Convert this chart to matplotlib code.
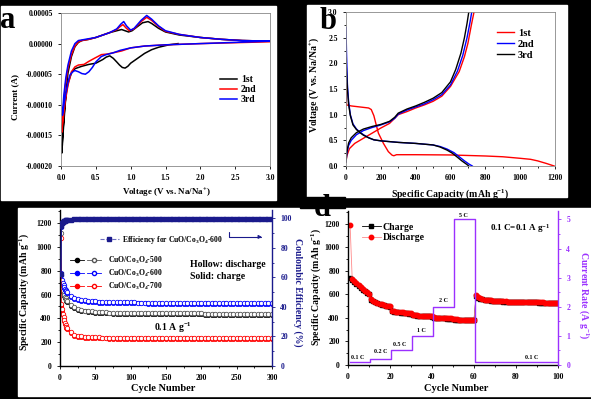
import matplotlib
matplotlib.use('Agg')
import matplotlib.pyplot as plt
from matplotlib.patches import Rectangle
from matplotlib.lines import Line2D
from matplotlib.legend_handler import HandlerTuple
from matplotlib.ticker import MultipleLocator, FormatStrFormatter

plt.rcParams['font.family'] = ['Liberation Serif', 'DejaVu Serif']
plt.rcParams['font.weight'] = 'bold'
plt.rcParams['axes.labelweight'] = 'bold'
plt.rcParams['mathtext.fontset'] = 'custom'
plt.rcParams['mathtext.rm'] = 'Liberation Serif:bold'
plt.rcParams['mathtext.it'] = 'Liberation Serif:italic:bold'
plt.rcParams['mathtext.bf'] = 'Liberation Serif:bold'

# ---- (a) CV curves, current in 1e-5 A ----
cv1_v = [1.68, 1.55, 1.4, 1.3, 1.2, 1.1, 1.0, 0.96, 0.92, 0.88, 0.84, 0.8, 0.75, 0.7, 0.65, 0.6, 0.5, 0.4, 0.3,
         0.2, 0.15, 0.1, 0.07, 0.05, 0.03, 0.02, 0.01,
         0.02, 0.03, 0.05, 0.08, 0.1, 0.15, 0.2, 0.25, 0.3, 0.4, 0.5, 0.6, 0.7, 0.8, 0.87, 0.92, 0.97, 1.02,
         1.1, 1.17, 1.25, 1.3, 1.4, 1.5, 1.7, 2.0, 2.3, 2.6, 3.0]
cv1_i = [0.0, -0.2, -0.6, -1.0, -1.6, -2.4, -3.2, -3.7, -4.0, -3.9, -3.5, -3.0, -2.4, -2.0, -2.2, -2.6, -3.2, -3.4, -3.7,
         -4.1, -4.8, -6.5, -8.5, -10.8, -14.0, -15.8, -17.9,
         -16.5, -14.6, -11.5, -7.0, -4.8, -2.1, -0.5, 0.2, 0.5, 0.7, 1.0, 1.4, 1.8, 2.1, 2.3, 2.1, 1.9, 2.1,
         2.8, 3.4, 3.6, 3.3, 2.5, 1.9, 1.4, 1.0, 0.7, 0.5, 0.4]
cv2_v = [3.0, 2.5, 2.0, 1.5, 1.2, 1.0, 0.87, 0.75, 0.67, 0.58, 0.48, 0.4, 0.33, 0.25, 0.2, 0.15, 0.1, 0.06, 0.03, 0.01,
         0.03, 0.06, 0.1, 0.15, 0.2, 0.25, 0.3, 0.4, 0.5, 0.6, 0.7, 0.8, 0.85, 0.89, 0.93, 0.98, 1.05, 1.15, 1.23,
         1.3, 1.4, 1.5, 1.7, 2.0, 2.3, 2.6, 3.0]
cv2_i = [0.3, 0.15, 0.0, -0.2, -0.4, -0.7, -1.2, -1.5, -1.7, -1.8, -2.4, -2.9, -3.4, -3.5, -3.8, -4.6, -6.8, -9.5, -12.5, -14.5,
         -11.0, -7.0, -4.0, -1.8, -0.4, 0.3, 0.5, 0.7, 1.0, 1.4, 1.8, 2.3, 2.8, 3.1, 2.6, 2.1, 2.4, 3.6, 4.3,
         3.8, 2.8, 2.0, 1.5, 1.0, 0.7, 0.5, 0.4]
cv3_v = [3.0, 2.5, 2.0, 1.5, 1.2, 1.0, 0.85, 0.75, 0.65, 0.58, 0.5, 0.45, 0.4, 0.35, 0.3, 0.25, 0.2, 0.17, 0.13, 0.1,
         0.06, 0.03, 0.02,
         0.04, 0.07, 0.1, 0.15, 0.2, 0.25, 0.3, 0.4, 0.5, 0.6, 0.7, 0.8, 0.86, 0.9, 0.94, 1.0, 1.05, 1.15, 1.23,
         1.3, 1.4, 1.5, 1.7, 2.0, 2.3, 2.6, 3.0]
cv3_i = [0.4, 0.2, 0.0, -0.2, -0.4, -0.7, -1.1, -1.5, -1.8, -2.1, -3.0, -3.9, -4.6, -5.0, -4.9, -4.6, -4.4, -4.6, -5.1, -6.3,
         -8.7, -10.9, -11.7,
         -8.5, -5.5, -3.5, -1.2, 0.0, 0.5, 0.6, 0.8, 1.0, 1.4, 1.8, 2.4, 3.2, 3.6, 2.9, 2.2, 2.5, 3.8, 4.6,
         4.0, 2.9, 2.1, 1.5, 1.0, 0.7, 0.5, 0.4]

# ---- (b) charge/discharge profiles ----
b1_dis_cap = [0, 1, 3, 30, 80, 130, 145, 160, 172, 186, 215, 243, 265, 275, 290, 400, 600, 800, 900, 1000, 1060, 1100, 1150, 1195]
b1_dis_v = [1.6, 1.35, 1.19, 1.17, 1.15, 1.13, 1.1, 0.98, 0.82, 0.64, 0.44, 0.28, 0.21, 0.2, 0.22, 0.22, 0.215, 0.195, 0.18, 0.15, 0.13, 0.1, 0.05, 0.0]
b1_chg_cap = [0, 5, 20, 50, 100, 150, 200, 250, 280, 300, 350, 400, 450, 500, 550, 600, 650, 680, 700, 720, 735]
b1_chg_v = [0.08, 0.2, 0.34, 0.44, 0.54, 0.64, 0.74, 0.83, 0.93, 1.0, 1.06, 1.13, 1.19, 1.26, 1.36, 1.55, 1.84, 2.13, 2.39, 2.75, 3.0]
b2_dis_cap = [0, 3, 8, 15, 25, 40, 60, 80, 100, 130, 160, 200, 300, 400, 500, 540, 580, 620, 650, 680, 705, 725]
b2_dis_v = [2.7, 2.2, 1.6, 1.25, 1.0, 0.82, 0.72, 0.66, 0.61, 0.55, 0.51, 0.49, 0.46, 0.44, 0.41, 0.38, 0.33, 0.26, 0.18, 0.1, 0.04, 0.0]
b2_chg_cap = [0, 5, 15, 30, 60, 100, 150, 200, 250, 280, 300, 350, 400, 450, 500, 550, 600, 640, 670, 695, 712, 722]
b2_chg_v = [0.08, 0.25, 0.4, 0.5, 0.61, 0.69, 0.75, 0.8, 0.86, 0.93, 1.01, 1.09, 1.15, 1.21, 1.29, 1.39, 1.58, 1.85, 2.15, 2.5, 2.8, 3.0]
b3_dis_cap = [0, 3, 8, 15, 25, 40, 60, 80, 100, 130, 160, 200, 300, 400, 500, 540, 580, 610, 640, 665, 690, 705]
b3_dis_v = [2.1, 1.85, 1.5, 1.2, 0.98, 0.8, 0.71, 0.65, 0.6, 0.55, 0.51, 0.49, 0.46, 0.44, 0.41, 0.37, 0.31, 0.25, 0.17, 0.1, 0.04, 0.0]
b3_chg_cap = [0, 5, 15, 30, 60, 100, 150, 200, 250, 280, 300, 350, 400, 450, 500, 550, 600, 630, 660, 680, 695, 705]
b3_chg_v = [0.08, 0.28, 0.45, 0.55, 0.65, 0.72, 0.77, 0.81, 0.87, 0.95, 1.03, 1.11, 1.17, 1.24, 1.32, 1.43, 1.64, 1.88, 2.2, 2.5, 2.78, 3.0]

# ---- (c) cycling at 0.1 A/g ----
cyc_c = [1, 2, 3, 4, 5, 6, 7, 8, 9, 10] + list(range(15, 301, 5))
s600_dis = [1170, 760, 720, 700, 680, 665, 650, 640, 630, 620,
            590, 572, 562, 556, 551, 548, 545, 543, 541, 540,
            539, 538, 537, 536, 536, 535, 535, 534,
            534, 533, 533, 533, 532, 532, 532, 531, 531, 531,
            531, 530, 530, 530, 530, 529, 529, 529, 529, 529,
            528, 528, 528, 528, 528, 528, 527, 527, 527, 527,
            527, 527, 527, 526, 526, 526, 526, 526, 526, 526]
s600_chg = [780, 730, 705, 688, 670, 656, 642, 632, 622, 612,
            582, 564, 554, 548, 543, 540, 537, 535, 533, 532,
            531, 530, 529, 528, 528, 527, 527, 526,
            526, 525, 525, 525, 524, 524, 524, 523, 523, 523,
            523, 522, 522, 522, 522, 521, 521, 521, 521, 521,
            520, 520, 520, 520, 520, 520, 519, 519, 519, 519,
            519, 519, 519, 518, 518, 518, 518, 518, 518, 518]
s500_dis = [1120, 690, 650, 630, 610, 595, 580, 567, 556, 546,
            512, 492, 480, 472, 466, 462, 458, 455, 453, 451,
            450, 449, 448, 447, 446, 446, 445, 445,
            445, 444, 444, 444, 443, 443, 443, 443, 442, 442,
            442, 442, 442, 441, 441, 441, 441, 441, 441, 441,
            440, 440, 440, 440, 440, 440, 440, 440, 440, 440,
            440, 440, 440, 440, 440, 440, 440, 440, 440, 440]
s500_chg = [690, 665, 638, 620, 601, 587, 572, 559, 548, 538,
            504, 484, 472, 464, 458, 454, 450, 447, 445, 443,
            442, 441, 440, 439, 438, 438, 437, 437,
            437, 436, 436, 436, 435, 435, 435, 435, 434, 434,
            434, 434, 434, 433, 433, 433, 433, 433, 433, 433,
            432, 432, 432, 432, 432, 432, 432, 432, 432, 432,
            432, 432, 432, 432, 432, 432, 432, 432, 432, 432]
s700_dis = [1075, 520, 480, 440, 410, 385, 364, 346, 331, 318,
            282, 263, 254, 249, 246, 244, 242, 241, 240, 239,
            239, 238, 238, 237, 237, 237, 236, 236,
            236, 236, 235, 235, 235, 235, 235, 234, 234, 234,
            234, 234, 234, 233, 233, 233, 233, 233, 233, 233,
            233, 232, 232, 232, 232, 232, 232, 232, 232, 232,
            232, 232, 232, 231, 231, 231, 231, 231, 231, 231]
s700_chg = [500, 500, 465, 428, 398, 374, 354, 337, 322, 310,
            274, 255, 246, 241, 238, 236, 234, 233, 232, 231,
            231, 230, 230, 229, 229, 229, 228, 228,
            228, 228, 227, 227, 227, 227, 227, 226, 226, 226,
            226, 226, 226, 225, 225, 225, 225, 225, 225, 225,
            225, 224, 224, 224, 224, 224, 224, 224, 224, 224,
            224, 224, 224, 223, 223, 223, 223, 223, 223, 223]
eff600 = [62, 95, 97, 97.5, 98, 98.3, 98.5, 98.7, 98.8, 99.0,
          99.2, 99.4, 99.5, 99.6, 99.6, 99.7, 99.7, 99.7, 99.8, 99.8,
          99.8, 99.8, 99.8, 99.8, 99.8, 99.8, 99.8, 99.8,
          99.8, 99.9, 99.8, 99.9, 99.8, 99.9, 99.8, 99.9, 99.8, 99.9,
          99.8, 99.9, 99.8, 99.9, 99.8, 99.9, 99.8, 99.9, 99.8, 99.9,
          99.8, 99.9, 99.8, 99.9, 99.8, 99.9, 99.8, 99.9, 99.8, 99.9,
          99.8, 99.9, 99.8, 99.9, 99.8, 99.9, 99.8, 99.9, 99.8, 99.9]

# ---- (d) rate performance ----
cyc_d = list(range(1, 101))
rate_dis = [1190, 730, 712, 695, 678, 662, 647, 632, 618, 605,
            562, 547, 537, 529, 522, 516, 511, 506, 502, 498,
            462, 457, 454, 451, 449, 447, 445, 443, 441, 439,
            428, 425, 423, 421, 420, 419, 418, 417, 416, 415,
            406, 404, 402, 401, 400, 399, 398, 397, 396, 395,
            389, 388, 387, 386, 386, 385, 385, 384, 384, 383,
            592, 577, 567, 561, 557, 553, 551, 549, 547, 546,
            545, 544, 543, 542, 541, 540, 540, 539, 538, 538,
            537, 537, 536, 536, 535, 535, 534, 534, 533, 533,
            533, 532, 532, 531, 531, 531, 530, 530, 530, 529]
rate_chg = [740, 722, 705, 689, 673, 657, 642, 628, 614, 601,
            556, 542, 533, 525, 518, 513, 508, 503, 499, 495,
            457, 453, 450, 448, 446, 444, 442, 440, 438, 436,
            424, 422, 420, 418, 417, 416, 415, 414, 413, 412,
            402, 401, 399, 398, 397, 396, 395, 394, 393, 392,
            385, 385, 384, 383, 383, 382, 382, 381, 381, 380,
            585, 572, 563, 558, 554, 551, 549, 547, 545, 544,
            543, 542, 541, 540, 539, 539, 538, 537, 537, 536,
            536, 535, 535, 534, 534, 533, 533, 533, 532, 532,
            531, 531, 531, 530, 530, 530, 529, 529, 529, 528]
rate_edges = [1, 10.5, 20.5, 30.5, 40.5, 50.5, 60.5, 100]
rate_values = [0.1, 0.2, 0.5, 1, 2, 5, 0.1]
rate_names = ['0.1 C', '0.2 C', '0.5 C', '1 C', '2 C', '5 C', '0.1 C']
rate_label_x = [4.8, 15.7, 24.8, 35, 45.7, 54.8, 87.6]
rate_label_y = [0.27, 0.48, 0.69, 1.2, 2.23, 5.12, 0.27]

NAVY = '#1a1a8c'
PURPLE = '#9b30ff'

fig = plt.figure(figsize=(5.91, 3.99), dpi=100, facecolor='black')
W, H = 591.0, 399.0


def box(x0, y0, x1, y1, color='white', z=-1):
    fig.patches.append(Rectangle((x0 / W, 1 - y1 / H), (x1 - x0) / W, (y1 - y0) / H,
                                 transform=fig.transFigure, color=color, zorder=z))


def axes_px(x0, y0, x1, y1):
    return fig.add_axes([x0 / W, 1 - y1 / H, (x1 - x0) / W, (y1 - y0) / H])


box(1, 6, 276, 200)
box(307, 5, 567, 197)
box(18, 208, 591, 396)


def style_ticks(ax, size=5.5):
    ax.tick_params(which='both', direction='out', labelsize=size, width=0.6)
    ax.tick_params(which='major', length=2.5)
    ax.tick_params(which='minor', length=1.5)
    for t in ax.get_xticklabels() + ax.get_yticklabels():
        t.set_fontweight('bold')


# ---------------- (a) ----------------
ax_a = axes_px(61, 13, 270, 166)
ax_a.plot(cv1_v, [v * 1e-5 for v in cv1_i], color='black', lw=1.1, label='1st')
ax_a.plot(cv2_v, [v * 1e-5 for v in cv2_i], color='red', lw=1.1, label='2nd')
ax_a.plot(cv3_v, [v * 1e-5 for v in cv3_i], color='blue', lw=1.1, label='3rd')
ax_a.set_xlim(0, 3.0)
ax_a.set_ylim(-0.0002, 0.00005)
ax_a.xaxis.set_major_locator(MultipleLocator(0.5))
ax_a.xaxis.set_major_formatter(FormatStrFormatter('%.1f'))
ax_a.yaxis.set_major_locator(MultipleLocator(0.00005))
ax_a.yaxis.set_major_formatter(FormatStrFormatter('%.5f'))
ax_a.set_xlabel('Voltage (V vs. Na/Na$^{+}$)', fontsize=6.5)
ax_a.set_ylabel('Current (A)', fontsize=6.5)
ax_a.xaxis.set_label_coords(0.507, -0.135)
ax_a.yaxis.set_label_coords(-0.2, 0.45)
for s in ax_a.spines.values():
    s.set_color('#888888')
    s.set_linewidth(0.6)
style_ticks(ax_a)
ax_a.legend(loc='center left', bbox_to_anchor=(0.76, 0.5), frameon=False, fontsize=7,
            handlelength=1.75, handletextpad=0.4, labelspacing=0.1, borderpad=0, borderaxespad=0)

# ---------------- (b) ----------------
ax_b = axes_px(346, 12, 555, 166)
ax_b.plot(b1_dis_cap, b1_dis_v, color='red', lw=1.0, label='1st')
ax_b.plot(b1_chg_cap, b1_chg_v, color='red', lw=1.0)
ax_b.plot(b2_dis_cap, b2_dis_v, color='blue', lw=1.0, label='2nd')
ax_b.plot(b2_chg_cap, b2_chg_v, color='blue', lw=1.0)
ax_b.plot(b3_dis_cap, b3_dis_v, color='black', lw=1.0, label='3rd')
ax_b.plot(b3_chg_cap, b3_chg_v, color='black', lw=1.0)
ax_b.set_xlim(0, 1200)
ax_b.set_ylim(0, 3.0)
ax_b.xaxis.set_major_locator(MultipleLocator(200))
ax_b.xaxis.set_minor_locator(MultipleLocator(100))
ax_b.yaxis.set_major_locator(MultipleLocator(0.5))
ax_b.yaxis.set_minor_locator(MultipleLocator(0.25))
ax_b.yaxis.set_major_formatter(FormatStrFormatter('%.1f'))
ax_b.set_xlabel('Specific Capacity (mAh g$^{-1}$)', fontsize=7)
ax_b.set_ylabel('Voltage (V vs. Na/Na$^{+}$)', fontsize=7)
ax_b.xaxis.set_label_coords(0.498, -0.135)
ax_b.yaxis.set_label_coords(-0.12, 0.526)
for s in ax_b.spines.values():
    s.set_color('#888888')
    s.set_linewidth(0.6)
style_ticks(ax_b)
ax_b.legend(loc='center left', bbox_to_anchor=(0.722, 0.792), frameon=False, fontsize=7.5,
            handlelength=1.6, handletextpad=0.4, labelspacing=0.15, borderpad=0, borderaxespad=0)

# ---------------- (c) ----------------
ax_c = axes_px(60, 210, 272, 366)
ms_c = 3.2
series_c = [(s500_chg, s500_dis, 'black', '#555555'),
            (s600_chg, s600_dis, 'blue', 'blue'),
            (s700_chg, s700_dis, 'red', 'red')]
for chg, dis, col, ecol in series_c:
    ax_c.plot(cyc_c, chg, color=col, lw=0.5, marker='o', ms=ms_c, mfc=col, mec=col, mew=0.4)
    ax_c.plot(cyc_c, dis, color=ecol, lw=0.5, marker='o', ms=ms_c, mfc='white', mec=ecol, mew=0.6)
ax_c.set_xlim(0, 300)
ax_c.set_ylim(0, 1310)
ax_c.xaxis.set_major_locator(MultipleLocator(50))
ax_c.xaxis.set_minor_locator(MultipleLocator(25))
ax_c.yaxis.set_major_locator(MultipleLocator(200))
ax_c.yaxis.set_minor_locator(MultipleLocator(100))
ax_c.set_xlabel('Cycle Number', fontsize=7.5)
ax_c.set_ylabel('Specific Capacity (mAh g$^{-1}$)', fontsize=7)
ax_c.xaxis.set_label_coords(0.486, -0.115)
ax_c.yaxis.set_label_coords(-0.137, 0.474)
ax_c.spines['top'].set_visible(False)
ax_c.spines['right'].set_visible(False)
for k in ['left', 'bottom']:
    ax_c.spines[k].set_linewidth(1.0)
style_ticks(ax_c)

ax_c2 = ax_c.twinx()
ax_c2.plot(cyc_c, eff600, color=NAVY, lw=1.0, marker='s', ms=2.6, mec=NAVY, mfc=NAVY)
ax_c2.set_ylim(0, 105.7)
ax_c2.yaxis.set_major_locator(MultipleLocator(20))
ax_c2.yaxis.set_minor_locator(MultipleLocator(10))
for k in ['top', 'left', 'bottom']:
    ax_c2.spines[k].set_visible(False)
ax_c2.spines['right'].set_color(NAVY)
ax_c2.spines['right'].set_linewidth(1.0)
style_ticks(ax_c2)
ax_c2.tick_params(axis='y', which='both', colors=NAVY)
ax_c2.set_ylabel('Coulombic Efficiency (%)', fontsize=7, color=NAVY, rotation=270, va='bottom')
ax_c2.yaxis.set_label_coords(1.10, 0.47)

eff_handle = Line2D([], [], color='#7070c0', lw=0.8, ls='--', marker='s', ms=2.6, mfc=NAVY, mec=NAVY)
leg1 = ax_c2.legend([eff_handle], ['Efficiency for CuO/Co$_3$O$_4$-600'], loc='center left',
                    bbox_to_anchor=(0.19, 0.808), frameon=False, fontsize=5.5, handlelength=2.4,
                    handletextpad=0.4, borderpad=0, borderaxespad=0)
ax_c2.add_artist(leg1)
leg_handles = []
for chg, dis, col, ecol in series_c:
    h1 = Line2D([], [], color=col, lw=0.6, marker='o', ms=3, mfc=col, mec=col)
    h2 = Line2D([], [], color=ecol, lw=0.6, marker='o', ms=3, mfc='white', mec=ecol)
    leg_handles.append((h1, h2))
ax_c2.legend(leg_handles, ['CuO/Co$_3$O$_4$-500', 'CuO/Co$_3$O$_4$-600', 'CuO/Co$_3$O$_4$-700'],
             handler_map={tuple: HandlerTuple(ndivide=None, pad=0.4)}, loc='center left',
             bbox_to_anchor=(0.047, 0.596), frameon=False, fontsize=5.5, handlelength=4,
             handletextpad=1.0, labelspacing=0.25, borderpad=0, borderaxespad=0)

ax_c.text(184, 849, 'Hollow: discharge', fontsize=7, fontweight='bold', va='center')
ax_c.text(184, 748, 'Solid: charge', fontsize=7, fontweight='bold', va='center')
ax_c.text(160, 319, '0.1 A g$^{-1}$', fontsize=7, fontweight='bold', va='center', ha='center')
ax_c.annotate('', xy=(286, 1084), xytext=(239, 1126),
              arrowprops=dict(arrowstyle='-|>', color=NAVY, lw=0.8, mutation_scale=5,
                              connectionstyle='angle,angleA=90,angleB=0,rad=0',
                              shrinkA=0, shrinkB=0))

# ---------------- (d) ----------------
ax_d = axes_px(348, 211, 558, 365)
ax_d.plot(cyc_d, rate_chg, color='black', lw=0.6, marker='s', ms=2.8, mfc='black', mec='black', label='Charge')
ax_d.plot(cyc_d, rate_dis, color='#ff8a8a', lw=0.6, marker='o', ms=3.2, mfc='red', mec='red', label='Discharge')
ax_d.set_xlim(0, 100)
ax_d.set_ylim(0, 1310)
ax_d.xaxis.set_major_locator(MultipleLocator(20))
ax_d.xaxis.set_minor_locator(MultipleLocator(10))
ax_d.yaxis.set_major_locator(MultipleLocator(200))
ax_d.yaxis.set_minor_locator(MultipleLocator(100))
ax_d.set_xlabel('Cycle Number', fontsize=7.5)
ax_d.set_ylabel('Specific Capacity (mAh g$^{-1}$)', fontsize=7)
ax_d.xaxis.set_label_coords(0.514, -0.123)
ax_d.yaxis.set_label_coords(-0.119, 0.506)
ax_d.spines['top'].set_visible(False)
ax_d.spines['right'].set_visible(False)
for k in ['left', 'bottom']:
    ax_d.spines[k].set_linewidth(1.0)
style_ticks(ax_d)
ax_d.legend(loc='center left', bbox_to_anchor=(0.067, 0.86), frameon=False, fontsize=7,
            handlelength=1.9, handletextpad=0.2, labelspacing=0.15, borderpad=0, borderaxespad=0)
ax_d.text(81.9, 1161, '0.1 C=0.1 A g$^{-1}$', fontsize=6.5, fontweight='bold', ha='center', va='center')

ax_d2 = ax_d.twinx()
ax_d2.step(rate_edges, rate_values + [rate_values[-1]], where='post', color=PURPLE, lw=1.0)
ax_d2.set_ylim(0, 5.29)
ax_d2.yaxis.set_major_locator(MultipleLocator(1))
ax_d2.yaxis.set_minor_locator(MultipleLocator(0.5))
for k in ['top', 'left', 'bottom']:
    ax_d2.spines[k].set_visible(False)
ax_d2.spines['right'].set_color(PURPLE)
ax_d2.spines['right'].set_linewidth(1.0)
style_ticks(ax_d2)
ax_d2.tick_params(axis='y', which='both', colors=PURPLE)
ax_d2.set_ylabel('Current Rate (A g$^{-1}$)', fontsize=7, color=PURPLE, rotation=270, va='bottom')
ax_d2.yaxis.set_label_coords(1.09, 0.455)
for name, x, y in zip(rate_names, rate_label_x, rate_label_y):
    ax_d2.text(x, y, name, fontsize=4.3, fontweight='bold', ha='center', va='center')

# panel letters
fig.text(0.0 / W, 1 - 28 / H, 'a', fontsize=22, fontweight='bold', va='baseline', zorder=5)
fig.text(320 / W, 1 - 29 / H, 'b', fontsize=22, fontweight='bold', va='baseline', zorder=5)
fig.text(314 / W, 1 - 216 / H, 'd', fontsize=22, fontweight='bold', va='baseline', zorder=5)
box(300, 197, 345, 208, color='black', z=6)

fig.savefig('out.png', dpi=100, facecolor='black')
